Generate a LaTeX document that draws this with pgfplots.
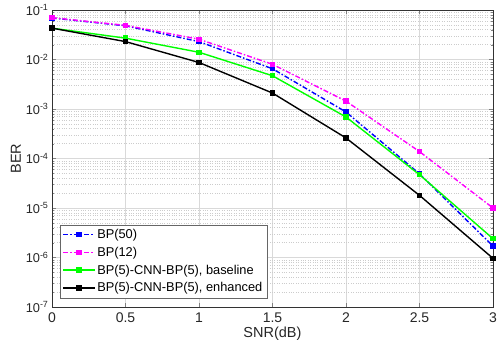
\documentclass[border=0pt]{standalone}
\usepackage{fontspec}
\setmainfont{Liberation Sans}
\usepackage{pgfplots}
\pgfplotsset{compat=1.18}
\definecolor{mblue}{RGB}{0,0,255}
\definecolor{mmag}{RGB}{255,0,255}
\definecolor{mgreen}{RGB}{0,255,0}
\begin{document}
\begin{tikzpicture}
\begin{axis}[
  scale only axis,
  width=441bp, height=297bp,
  ymode=log,
  xmin=0, xmax=3, ymin=1e-7, ymax=1e-1,
  xtick={0,0.5,...,3},
  xticklabels={0,0.5,1,1.5,2,2.5,3},
  ytick={1e-7,1e-6,1e-5,1e-4,1e-3,1e-2,1e-1},
  yticklabels={10\textsuperscript{-7},10\textsuperscript{-6},10\textsuperscript{-5},10\textsuperscript{-4},10\textsuperscript{-3},10\textsuperscript{-2},10\textsuperscript{-1}},
  xticklabel style={font=\fontsize{14bp}{16bp}\selectfont, text=black!85, yshift=-2bp},
  yticklabel style={font=\fontsize{12.8bp}{15bp}\selectfont, text=black!85},
  label style={font=\fontsize{14.5bp}{16bp}\selectfont, text=black!85},
  xlabel={SNR(dB)}, ylabel={BER},
  xlabel style={yshift=2bp},
  ylabel style={yshift=-2bp},
  tick align=inside,
  major tick length=4bp, minor tick length=2bp,
  axis line style={black!80},
  ymajorgrids, yminorgrids, xmajorgrids,
  major grid style={black!15, line width=0.5pt},
  minor grid style={black!20, dotted, line width=0.5pt},
  legend style={at={(axis cs:0,1e-7)}, anchor=south west, xshift=8bp, yshift=9bp,
    font=\fontsize{12.8bp}{14bp}\selectfont, draw=black!60, fill=white,
    row sep=3bp, inner sep=2.5bp},
  legend cell align=left,
  legend image code/.code={\draw[mark repeat=2,mark phase=2] plot coordinates {(0cm,0cm) (0.55cm,0cm) (1.1cm,0cm)};},
  every axis plot/.append style={line width=1.4pt, mark=square*, mark size=2bp},
]
\addplot[mblue, dash pattern=on 5bp off 2bp on 1.5bp off 2bp, mark options={solid}] coordinates {
(0,0.069) (0.5,0.048) (1,0.023) (1.5,0.0065) (2,8.7e-4) (2.5,4.9e-5) (3,1.7e-6)};
\addlegendentry{BP(50)}
\addplot[mmag, dash pattern=on 5bp off 2bp on 1.5bp off 2bp, mark options={solid}] coordinates {
(0,0.070) (0.5,0.049) (1,0.0257) (1.5,0.0080) (2,0.00144) (2.5,1.38e-4) (3,1.0e-5)};
\addlegendentry{BP(12)}
\addplot[mgreen] coordinates {
(0,0.043) (0.5,0.027) (1,0.014) (1.5,0.0047) (2,6.9e-4) (2.5,4.7e-5) (3,2.4e-6)};
\addlegendentry{BP(5)-CNN-BP(5), baseline}
\addplot[black] coordinates {
(0,0.043) (0.5,0.023) (1,0.0087) (1.5,0.0021) (2,2.6e-4) (2.5,1.8e-5) (3,9.6e-7)};
\addlegendentry{BP(5)-CNN-BP(5), enhanced}
\end{axis}
\pgfresetboundingbox
\path[use as bounding box] (-52bp,-43bp) rectangle (446bp,307bp);
\end{tikzpicture}
\end{document}
